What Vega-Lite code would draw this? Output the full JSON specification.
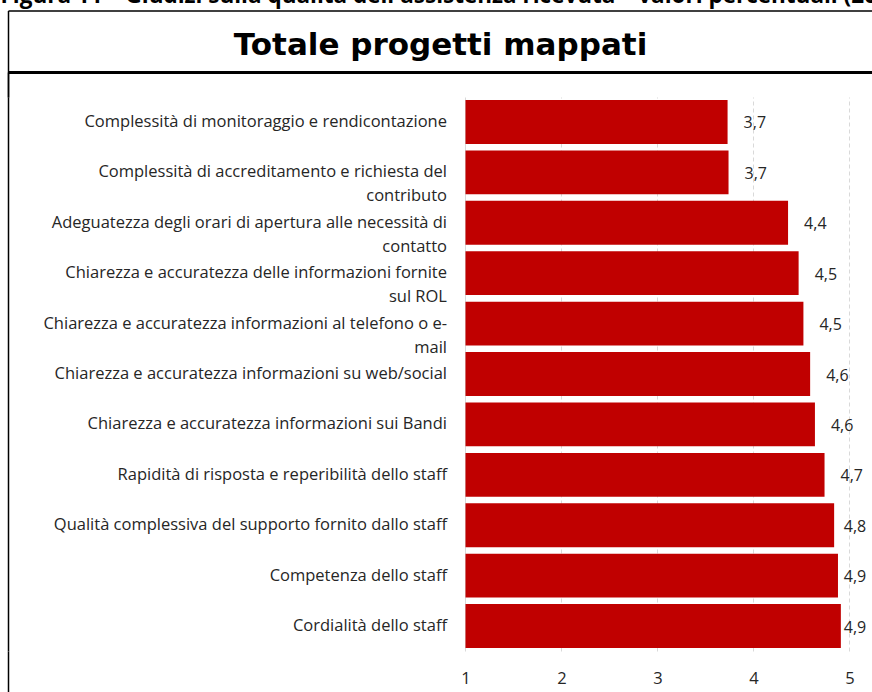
{
  "$schema": "https://vega.github.io/schema/vega-lite/v6.json",
  "width": 864,
  "height": 554,
  "autosize": {"type": "none"},
  "padding": {"left": 8, "top": 97, "right": 0, "bottom": 41},
  "background": "white",
  "config": {
    "view": {"stroke": null},
    "font": "Open Sans",
    "locale": {"number": {"decimal": ",", "thousands": ".", "grouping": [3], "currency": ["€", ""]}}
  },
  "data": {
    "values": [
      {"cat": "Complessità di monitoraggio e rendicontazione", "value": 3.73},
      {"cat": "Complessità di accreditamento e richiesta del\ncontributo", "value": 3.74},
      {"cat": "Adeguatezza degli orari di apertura alle necessità di\ncontatto", "value": 4.36},
      {"cat": "Chiarezza e accuratezza delle informazioni fornite\nsul ROL", "value": 4.47},
      {"cat": "Chiarezza e accuratezza informazioni al telefono o e-\nmail", "value": 4.52},
      {"cat": "Chiarezza e accuratezza informazioni su web/social", "value": 4.59},
      {"cat": "Chiarezza e accuratezza informazioni sui Bandi", "value": 4.64},
      {"cat": "Rapidità di risposta e reperibilità dello staff", "value": 4.74},
      {"cat": "Qualità complessiva del supporto fornito dallo staff", "value": 4.84},
      {"cat": "Competenza dello staff", "value": 4.88},
      {"cat": "Cordialità dello staff", "value": 4.91}
    ]
  },
  "transform": [{"calculate": "min(datum.value + 0.167, 4.94)", "as": "labelPos"}],
  "encoding": {
    "y": {
      "field": "cat",
      "type": "nominal",
      "sort": null,
      "scale": {"paddingInner": 0.13, "paddingOuter": 0.06},
      "axis": {"labels": false, "ticks": false, "domain": true, "domainColor": "black", "domainWidth": 1.5, "title": null, "grid": false}
    }
  },
  "layer": [
    {
      "mark": {"type": "bar", "color": "#C00000"},
      "encoding": {
        "x": {
          "field": "value",
          "type": "quantitative",
          "scale": {"domain": [-3.7656, 5.2344], "nice": false, "zero": false},
          "axis": {
            "orient": "bottom",
            "values": [-3.7656, 1, 2, 3, 4, 5],
            "grid": true,
            "gridColor": {"condition": {"test": "datum.value < 0", "value": "transparent"}, "value": "#D9D9D9"},
            "gridDash": {"condition": {"test": "datum.value == 1", "value": []}, "value": [4, 3]},
            "gridWidth": 1,
            "domain": false,
            "ticks": true,
            "tickSize": 41,
            "tickColor": "black",
            "tickWidth": 1.5,
            "tickOpacity": {"condition": {"test": "datum.value < 0", "value": 1}, "value": 0},
            "labelExpr": "datum.value < 0 ? '' : datum.label",
            "labelPadding": -22,
            "labelFontSize": 16.5,
            "labelColor": "#262626",
            "labelFlush": false,
            "labelOverlap": false,
            "title": null
          }
        },
        "x2": {"datum": 1}
      }
    },
    {
      "mark": {"type": "text", "align": "left", "baseline": "middle", "dy": 1.5, "fontSize": 16, "color": "#262626"},
      "encoding": {
        "x": {
          "field": "labelPos",
          "type": "quantitative",
          "axis": {
            "orient": "top",
            "offset": 25,
            "values": [-3.7656],
            "domain": true,
            "domainColor": "black",
            "domainWidth": 3,
            "ticks": true,
            "tickSize": -25,
            "tickColor": "black",
            "tickWidth": 1.5,
            "labels": false,
            "grid": false,
            "title": "Totale progetti mappati",
            "titleFont": "DejaVu Sans",
            "titleFontSize": 31,
            "titleFontWeight": "bold",
            "titleColor": "black",
            "titlePadding": 10,
            "titleAnchor": "middle"
          }
        },
        "text": {"field": "value", "type": "quantitative", "format": ".1f"}
      }
    },
    {
      "mark": {"type": "text", "align": "right", "baseline": "middle", "dx": -18.5, "fontSize": 16.5, "lineBreak": "\n", "lineHeight": 24, "color": "#262626"},
      "encoding": {
        "x": {
          "datum": 1,
          "type": "quantitative",
          "axis": {
            "orient": "top",
            "offset": 86.5,
            "values": [-3.7656],
            "domain": true,
            "domainColor": "black",
            "domainWidth": 1.5,
            "ticks": true,
            "tickSize": -86.5,
            "tickColor": "black",
            "tickWidth": 1.5,
            "labels": false,
            "grid": false,
            "title": "Figura 11 – Giudizi sulla qualità dell'assistenza ricevuta – valori percentuali (2023)",
            "titleFontSize": 22.5,
            "titleFontWeight": "bold",
            "titleColor": "black",
            "titleAlign": "left",
            "titleBaseline": "alphabetic",
            "titleX": -8,
            "titleY": -8.5
          }
        },
        "text": {"field": "cat", "type": "nominal"}
      }
    }
  ],
  "resolve": {"axis": {"x": "independent"}}
}
